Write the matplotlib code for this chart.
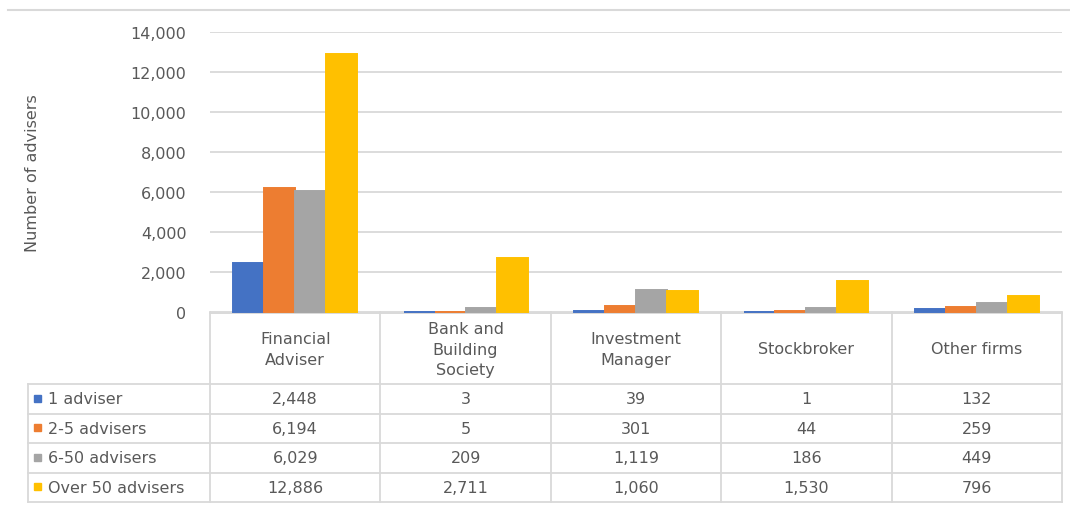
import matplotlib
matplotlib.use("Agg")
import matplotlib.pyplot as plt
from matplotlib.ticker import FuncFormatter

# Firm types and adviser counts by firm size
firm_types = ["Financial\nAdviser", "Bank and\nBuilding\nSociety", "Investment\nManager",
              "Stockbroker", "Other firms"]
series_names = ["1 adviser", "2-5 advisers", "6-50 advisers", "Over 50 advisers"]
one_adviser = [2448, 3, 39, 1, 132]
two_to_five = [6194, 5, 301, 44, 259]
six_to_fifty = [6029, 209, 1119, 186, 449]
over_fifty = [12886, 2711, 1060, 1530, 796]
colors = ["#4472C4", "#ED7D31", "#A5A5A5", "#FFC000"]
y_ticks = [0, 2000, 4000, 6000, 8000, 10000, 12000, 14000]

series = [one_adviser, two_to_five, six_to_fifty, over_fifty]

plt.rcParams["font.family"] = ["DejaVu Sans"]

W, H = 1070, 506
TEXT = "#595959"
GRID = "#D9D9D9"
FS = 11.5

fig = plt.figure(figsize=(W / 100, H / 100), dpi=100)

# data table drawn underneath in pixel coordinates (added first so the bars sit on top)
tab = fig.add_axes([0, 0, 1, 1])
tab.set_xlim(0, W)
tab.set_ylim(H, 0)
tab.axis("off")

# pixel layout
plot_l, plot_r, plot_t, plot_b = 210, 1062, 33, 313
ax = fig.add_axes([plot_l / W, 1 - plot_b / H, (plot_r - plot_l) / W, (plot_b - plot_t) / H])
ax.patch.set_alpha(0)

n = len(firm_types)
bar_w = 0.182
for j, vals in enumerate(series):
    xs = [i + (j - 1.5) * bar_w for i in range(n)]
    bars = ax.bar(xs, vals, width=bar_w, color=colors[j], edgecolor=colors[j],
                  linewidth=1.4, zorder=3)
    for b in bars:
        b.set_clip_on(False)

ax.set_xlim(-0.5, n - 0.5)
ax.set_ylim(0, 14000)
ax.set_yticks(y_ticks)
ax.yaxis.set_major_formatter(FuncFormatter(lambda v, p: f"{int(v):,}"))
ax.tick_params(axis="y", length=0, pad=17, labelsize=FS, labelcolor=TEXT)
ax.set_xticks([])
ax.grid(axis="y", color=GRID, linewidth=1.3, zorder=0)
for s in ax.spines.values():
    s.set_visible(False)
fig.text(33 / W, 1 - 173 / H, "Number of advisers", rotation=90, ha="center", va="center",
         fontsize=FS, color=TEXT)

col_w = (plot_r - plot_l) / n
col_edges = [plot_l + i * col_w for i in range(n + 1)]
row_edges = [313, 385, 414.5, 444, 473.5, 503]
leg_l = 28

kw = dict(color=GRID, linewidth=1.3)
tab.plot([plot_l, plot_r], [row_edges[0] + 0.5, row_edges[0] + 0.5], color=GRID, linewidth=1.4)
for y in row_edges[1:]:
    tab.plot([leg_l, plot_r], [y, y], **kw)
for x in col_edges:
    tab.plot([x, x], [row_edges[0], row_edges[-1]], **kw)
tab.plot([leg_l, leg_l], [row_edges[1], row_edges[-1]], **kw)

# top rule above the chart
tab.plot([8, W], [11, 11], color=GRID, linewidth=1.5)

for i, name in enumerate(firm_types):
    cx = (col_edges[i] + col_edges[i + 1]) / 2
    tab.text(cx, (row_edges[0] + row_edges[1]) / 2 + 1, name, ha="center", va="center",
             fontsize=FS, color=TEXT, linespacing=1.5)

for j, vals in enumerate(series):
    cy = (row_edges[j + 1] + row_edges[j + 2]) / 2
    tab.add_patch(plt.Rectangle((34, cy - 4), 7, 7, color=colors[j]))
    tab.text(48, cy, series_names[j], ha="left", va="center", fontsize=FS, color=TEXT)
    for i, v in enumerate(vals):
        cx = (col_edges[i] + col_edges[i + 1]) / 2
        tab.text(cx, cy, f"{v:,}", ha="center", va="center", fontsize=FS, color=TEXT)

fig.savefig("out.png", dpi=100, facecolor="white")
